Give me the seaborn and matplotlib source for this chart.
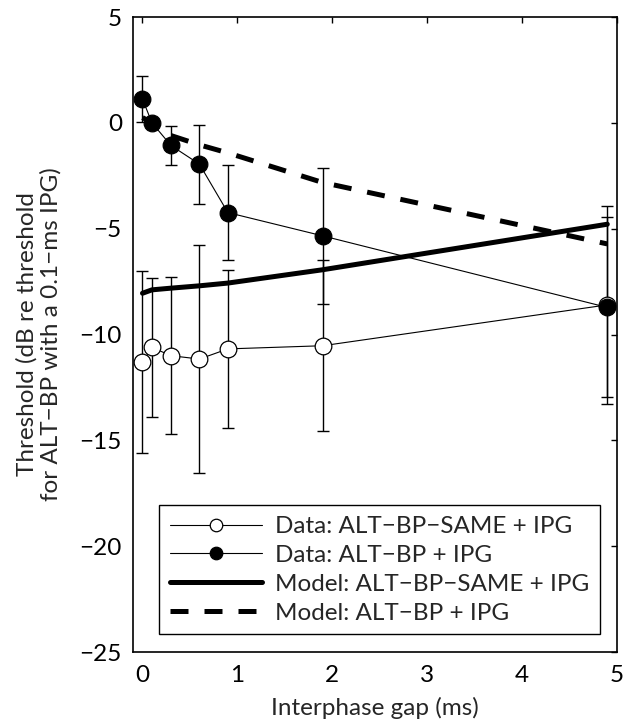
import numpy as np
import pandas as pd
import matplotlib
matplotlib.use("Agg")
import matplotlib.pyplot as plt
import seaborn as sns

# Interphase gaps (ms)
ipg = [0.0, 0.1, 0.3, 0.6, 0.9, 1.9, 4.9]

# Measured thresholds (dB re ALT-BP threshold at 0.1-ms IPG) and error bars
data_same = [-11.31, -10.61, -11.0, -11.16, -10.68, -10.53, -8.6]
data_same_err = [4.29, 3.30, 3.70, 5.38, 3.72, 4.04, 4.69]
data_altbp = [1.12, 0.0, -1.07, -1.95, -4.24, -5.34, -8.72]
data_altbp_err = [1.10, 0.0, 0.90, 1.87, 2.24, 3.23, 4.25]

# Model predictions at the same gaps
model_same = [-8.05, -7.89, -7.81, -7.70, -7.57, -6.94, -4.79]
model_altbp = [0.25, 0.0, -0.60, -1.04, -1.42, -2.82, -5.72]

labels = ["Data: ALT\u2212BP\u2212SAME + IPG",
          "Data: ALT\u2212BP + IPG",
          "Model: ALT\u2212BP\u2212SAME + IPG",
          "Model: ALT\u2212BP + IPG"]

sns.set_style("white")
plt.rcParams["font.family"] = ["Lato", "DejaVu Sans"]
plt.rcParams["axes.unicode_minus"] = True

FS = 17.5

df_same = pd.DataFrame({"ipg": ipg, "thr": data_same})
df_alt = pd.DataFrame({"ipg": ipg, "thr": data_altbp})
df_msame = pd.DataFrame({"ipg": ipg, "thr": model_same})
df_malt = pd.DataFrame({"ipg": ipg, "thr": model_altbp})

fig = plt.figure(figsize=(6.23, 7.21), dpi=100)
ax = fig.add_axes([0.2135, 0.0957, 0.7765, 0.8807])

# error bars first, markers on top
ax.errorbar(ipg, data_same, yerr=data_same_err, fmt="none", ecolor="black",
            elinewidth=1.0, capsize=4, capthick=1.0, zorder=2)
ax.errorbar(ipg, data_altbp, yerr=data_altbp_err, fmt="none", ecolor="black",
            elinewidth=1.0, capsize=4, capthick=1.0, zorder=2)

sns.lineplot(data=df_same, x="ipg", y="thr", ax=ax, color="black", lw=0.8,
             marker="o", markersize=12, markerfacecolor="white",
             markeredgecolor="black", markeredgewidth=0.9,
             label=labels[0], zorder=3)
sns.lineplot(data=df_alt, x="ipg", y="thr", ax=ax, color="black", lw=0.8,
             marker="o", markersize=12, markerfacecolor="black",
             markeredgecolor="black", markeredgewidth=0.9,
             label=labels[1], zorder=4)
sns.lineplot(data=df_msame, x="ipg", y="thr", ax=ax, color="black", lw=3.6,
             label=labels[2], zorder=5)
sns.lineplot(data=df_malt, x="ipg", y="thr", ax=ax, color="black", lw=3.6,
             dashes=False, label=labels[3], zorder=5)
ax.lines[-1].set_dashes((3.6, 3.2))
ax.lines[-1].set_dash_capstyle("butt")

ax.set_xlim(-0.1, 5.0)
ax.set_ylim(-25, 5)
ax.set_xticks([0, 1, 2, 3, 4, 5])
ax.set_yticks([5, 0, -5, -10, -15, -20, -25])
ax.tick_params(direction="in", length=4, width=1.0, labelsize=FS,
               top=True, right=True, colors="black", pad=8)
ax.tick_params(axis="x", pad=9)
for s in ax.spines.values():
    s.set_visible(True)
    s.set_linewidth(1.2)
    s.set_color("black")

ax.set_xlabel("Interphase gap (ms)", fontsize=FS, labelpad=8)
ax.set_ylabel("Threshold (dB re threshold\nfor ALT\u2212BP with a 0.1\u2212ms IPG)",
              fontsize=FS, labelpad=13, linespacing=1.15)

leg = ax.legend(loc="lower right", bbox_to_anchor=(0.975, 0.02), fontsize=FS,
                frameon=True, fancybox=False, edgecolor="black",
                framealpha=1, handlelength=3.8, handletextpad=0.5,
                labelspacing=0.32, borderpad=0.45, borderaxespad=0.2,
                markerscale=0.75)
leg.get_frame().set_linewidth(1.0)

fig.savefig("out.png", dpi=100)
